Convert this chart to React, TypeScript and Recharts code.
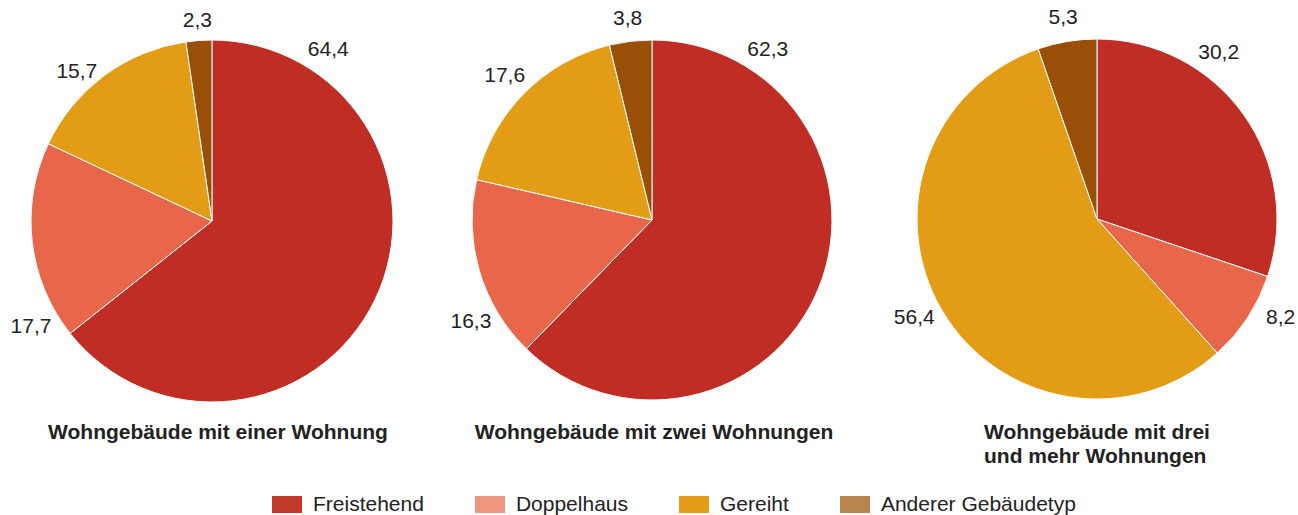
import { PieChart, Pie, Cell } from "recharts";

const categories = ["Freistehend", "Doppelhaus", "Gereiht", "Anderer Gebäudetyp"];
const einerWohnung = [64.4, 17.7, 15.7, 2.3];
const zweiWohnungen = [62.3, 16.3, 17.6, 3.8];
const dreiUndMehr = [30.2, 8.2, 56.4, 5.3];
const titles = [
  ["Wohngebäude mit einer Wohnung"],
  ["Wohngebäude mit zwei Wohnungen"],
  ["Wohngebäude mit drei", "und mehr Wohnungen"],
];

const sliceColors = ["#c02d25", "#e8664a", "#e29c15", "#9a4f09"];
const legendColors = ["#c0392b", "#ef9580", "#e39a17", "#b9854f"];
const FONT = "'Liberation Sans', Arial, sans-serif";
const TEXT = "#222";

// label placement: [angle clockwise from top in degrees | null = slice middle, gap beyond rim]
const labelPlace: [number | null, number][][] = [
  [[34, 27], [240, 28], [318, 21], [null, 21]],
  [[34, 27], [241, 27], [null, 27], [null, 24]],
  [[36, 27], [118, 28], [242, 27], [null, 25]],
];

const pies = [
  { values: einerWohnung, cx: 212, cy: 221, r: 181 },
  { values: zweiWohnungen, cx: 652, cy: 220, r: 180 },
  { values: dreiUndMehr, cx: 1097, cy: 219, r: 180 },
];

const fmt = (v: number) => v.toFixed(1).replace(".", ",");

function makeLabel(pieIdx: number) {
  return (props: any) => {
    const { cx, cy, midAngle, outerRadius, value, index } = props;
    const [override, gap] = labelPlace[pieIdx][index];
    // recharts angle: counter-clockwise from 3 o'clock
    const angle = override == null ? midAngle : 90 - override;
    const rad = (angle * Math.PI) / 180;
    const d = outerRadius + gap;
    const x = cx + d * Math.cos(rad);
    const y = cy - d * Math.sin(rad);
    return (
      <text
        x={x}
        y={y}
        textAnchor="middle"
        dominantBaseline="central"
        fontSize={21}
        fontFamily={FONT}
        fill={TEXT}
      >
        {fmt(value)}
      </text>
    );
  };
}

const titleStyle = {
  position: "absolute" as const,
  top: 420,
  fontWeight: "bold" as const,
  fontSize: 21,
  lineHeight: "24px",
  color: TEXT,
};

export default function App() {
  return (
    <div
      style={{
        position: "absolute",
        left: 0,
        top: 0,
        width: 1298,
        height: 515,
        background: "#fff",
        fontFamily: FONT,
        overflow: "hidden",
      }}
    >
      <PieChart
        width={1298}
        height={420}
        margin={{ top: 0, right: 0, bottom: 0, left: 0 }}
        style={{ position: "absolute", left: 0, top: 0 }}
      >
        {pies.map((p, pi) => (
          <Pie
            key={pi}
            data={p.values.map((v, i) => ({ name: categories[i], value: v }))}
            dataKey="value"
            nameKey="name"
            cx={p.cx}
            cy={p.cy}
            outerRadius={p.r}
            startAngle={90}
            endAngle={-270}
            stroke="#fff"
            strokeWidth={1}
            label={makeLabel(pi)}
            labelLine={false}
            isAnimationActive={false}
          >
            {p.values.map((_, i) => (
              <Cell key={i} fill={sliceColors[i]} />
            ))}
          </Pie>
        ))}
      </PieChart>

      <div style={{ ...titleStyle, left: 18, width: 400, textAlign: "center" }}>{titles[0][0]}</div>
      <div style={{ ...titleStyle, left: 454, width: 400, textAlign: "center" }}>{titles[1][0]}</div>
      <div style={{ ...titleStyle, left: 984 }}>
        {titles[2].map((t, i) => (
          <div key={i}>{t}</div>
        ))}
      </div>

      <div style={{ position: "absolute", left: 272, top: 493, display: "flex", gap: 51, alignItems: "center" }}>
        {categories.map((c, i) => (
          <div key={c} style={{ display: "flex", alignItems: "center" }}>
            <span style={{ width: 30, height: 17, background: legendColors[i], display: "inline-block", marginRight: 11 }} />
            <span style={{ fontSize: 21, color: TEXT, lineHeight: "22px" }}>{c}</span>
          </div>
        ))}
      </div>
    </div>
  );
}
